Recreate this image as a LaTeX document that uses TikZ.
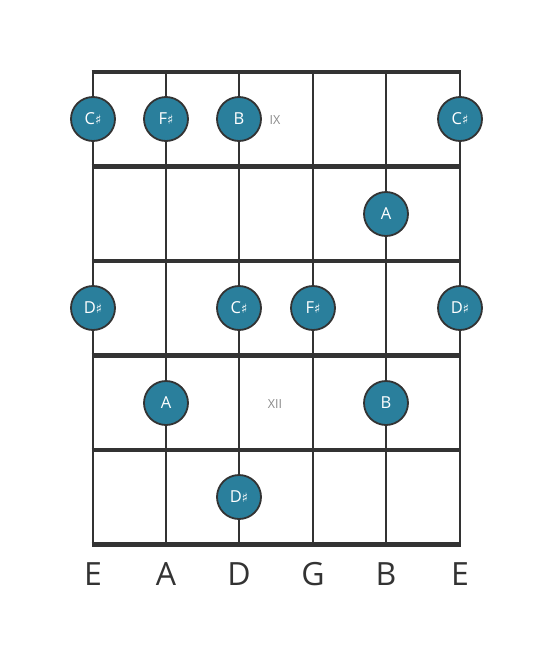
\documentclass[tikz,border=0pt]{standalone}
\usepackage{fontspec}
\setmainfont{Open Sans}
\newfontfamily\symfont{DejaVu Sans}
\definecolor{noteblue}{HTML}{2A7F9C}
\definecolor{linegray}{HTML}{333333}
\definecolor{fretnum}{HTML}{8A8A8A}
\newcommand{\shp}{{\symfont\fontsize{13}{13}\selectfont ♯}}
\begin{document}
\begin{tikzpicture}[x=1pt,y=-1pt,
  stringline/.style={draw=linegray,line width=2.8pt},
  fretline/.style={draw=linegray,line width=4.5pt},
  note/.style={circle,fill=noteblue,draw=linegray,line width=1.8pt,minimum size=44pt,inner sep=0pt,text=white,font=\fontsize{16.5}{16.5}\selectfont},
  fnum/.style={text=fretnum,font=\fontsize{12.5}{12.5}\selectfont},
  sname/.style={text=linegray,font=\fontsize{32}{32}\selectfont}]
\useasboundingbox (0,0) rectangle (553,656);
% string coordinates
\foreach \n/\x in {1/93,2/166,3/239,4/313,5/386,6/460}{
  \coordinate (s\n t) at (\x,72);
  \coordinate (s\n b) at (\x,544.5);
}
\foreach \n in {1,...,6}{ \draw[stringline] (s\n t) -- (s\n b); }
\foreach \f/\y in {0/72,1/166.5,2/261,3/355.5,4/450,5/544.5}{
  \coordinate (f\f l) at (91.6,\y);
  \coordinate (f\f r) at (461.4,\y);
  \draw[fretline] (f\f l) -- (f\f r);
}
% fret numbers
\node[fnum] (ix) at (275,120) {IX};
\node[fnum] (xii) at (275,404) {XII};
% notes
\node[note] (n1) at (93,119) {C\shp};
\node[note] (n2) at (166,119) {F\shp};
\node[note] (n3) at (239,119) {B};
\node[note] (n4) at (460,119) {C\shp};
\node[note] (n5) at (386,214) {A};
\node[note] (n6) at (93,308) {D\shp};
\node[note] (n7) at (239,308) {C\shp};
\node[note] (n8) at (313,308) {F\shp};
\node[note] (n9) at (460,308) {D\shp};
\node[note] (n10) at (166,403) {A};
\node[note] (n11) at (386,403) {B};
\node[note] (n12) at (239,497) {D\shp};
% string names
\foreach \n/\x/\t in {1/93/E,2/166/A,3/239/D,4/313/G,5/386/B,6/460/E}{
  \node[sname] (l\n) at (\x,574) {\t};
}
\end{tikzpicture}
\end{document}
